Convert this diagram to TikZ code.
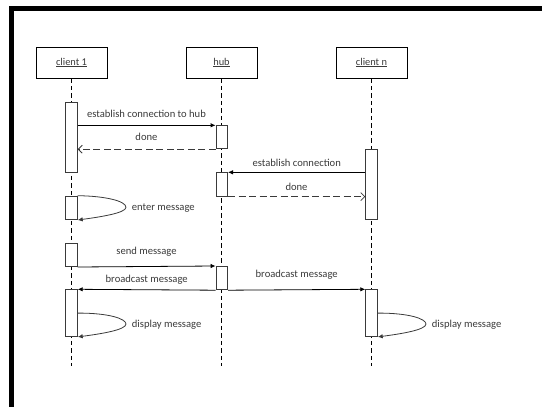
\documentclass[tikz,border=0pt]{standalone}
\usepackage{fontspec}
\setmainfont{Carlito}
\usetikzlibrary{arrows.meta}
\definecolor{ink}{HTML}{3A3A3A}
\tikzset{
  head/.style={draw=black, line width=0.9pt, fill=white, minimum width=71pt, minimum height=31pt, inner sep=0pt, text=ink, font=\fontsize{10.4}{12}\selectfont},
  lifeline/.style={draw=black, line width=0.8pt, dash pattern=on 4.5pt off 3pt},
  act/.style={draw=ink, line width=0.9pt, fill=white, minimum width=11.5pt, inner sep=0pt, anchor=north},
  msg/.style={draw=black, line width=0.8pt, -{Latex[length=5pt,width=4.5pt]}},
  ret/.style={draw=ink, line width=0.8pt, dash pattern=on 7pt off 3.5pt, -{Straight Barb[length=4pt,width=8pt]}},
  selfmsg/.style={draw=ink, line width=0.8pt, -{Latex[length=5pt,width=4.5pt]}},
  lbl/.style={text=ink, font=\fontsize{10.6}{12}\selectfont, inner sep=0pt, anchor=base},
  lbll/.style={lbl, anchor=base west}
}
\begin{document}
\begin{tikzpicture}[x=1pt,y=-1pt]
\useasboundingbox (0,0) rectangle (542,407);
\begin{scope}
\clip (0,0) rectangle (542,407);
% outer frame
\draw[line width=5pt, black] (11.5,8.5) rectangle (560,430);
\end{scope}

% participants
\node[head] (c1) at (71.5,62.5) {\underline{client 1}};
\node[head] (hb) at (221.5,62.5) {\underline{hub}};
\node[head] (cn) at (371.5,62.5) {\underline{client n}};

% lifelines
\coordinate (c1end) at (71.5,366);
\coordinate (hbend) at (221.5,366);
\coordinate (cnend) at (371.5,366);
\draw[lifeline] (c1.south) -- (c1end);
\draw[lifeline] (hb.south) -- (hbend);
\draw[lifeline] (cn.south) -- (cnend);

% activation bars
\node[act, minimum height=70.5pt] (a1) at (71.5,101.8) {};
\node[act, minimum height=23pt]   (h1) at (221.8,125.3) {};
\node[act, minimum height=70pt]   (n1) at (371.5,149) {};
\node[act, minimum height=23.4pt] (h2) at (221.8,172.3) {};
\node[act, minimum height=23.4pt] (a2) at (71.5,195.7) {};
\node[act, minimum height=23.4pt] (a3) at (71.5,242.7) {};
\node[act, minimum height=23.3pt] (h3) at (221.8,266) {};
\node[act, minimum height=46.7pt] (a4) at (71.5,289.3) {};
\node[act, minimum height=46.7pt] (n2) at (371.5,289.3) {};

% connection set-up
\draw[msg] (a1.east |- h1.north) -- (h1.north west);
\node[lbl] (m1) at (146.5,117.5) {establish connection to hub};
\draw[ret] (h1.south west) -- (a1.east |- h1.south);
\node[lbl] (m2) at (146.5,140.5) {done};
\draw[msg] (n1.west |- h2.north) -- (h2.north east);
\node[lbl] (m3) at (296.7,166.5) {establish connection};
\draw[ret] (h2.south east) -- (n1.west |- h2.south);
\node[lbl] (m4) at (296.5,190) {done};

% entering a message
\coordinate (e1) at (126,207.3);
\draw[selfmsg] (a2.north east) .. controls (105,196) and (126,201) .. (e1)
  .. controls (126,213) and (100,217) .. (a2.south east);
\node[lbll] (m5) at (131.7,210.5) {enter message};

% sending and broadcasting
\draw[msg] (a3.south east) -- (h3.north west);
\node[lbl] (m6) at (146.5,254.5) {send message};
\draw[msg] (h3.south west) -- (a4.north east);
\node[lbl] (m7) at (146.7,282.5) {broadcast message};
\draw[msg] (h3.south east) -- (n2.north west);
\node[lbl] (m8) at (296.7,277.8) {broadcast message};

% displaying the message
\coordinate (d1) at (126,324);
\draw[selfmsg] (a4.east) .. controls (110,313) and (126,319) .. (d1)
  .. controls (126,330) and (100,334) .. (a4.south east);
\node[lbll] (m9) at (131.7,327) {display message};
\coordinate (d2) at (426,324);
\draw[selfmsg] (n2.east) .. controls (410,313) and (426,319) .. (d2)
  .. controls (426,330) and (400,334) .. (n2.south east);
\node[lbll] (m10) at (431.7,327) {display message};
\end{tikzpicture}
\end{document}
